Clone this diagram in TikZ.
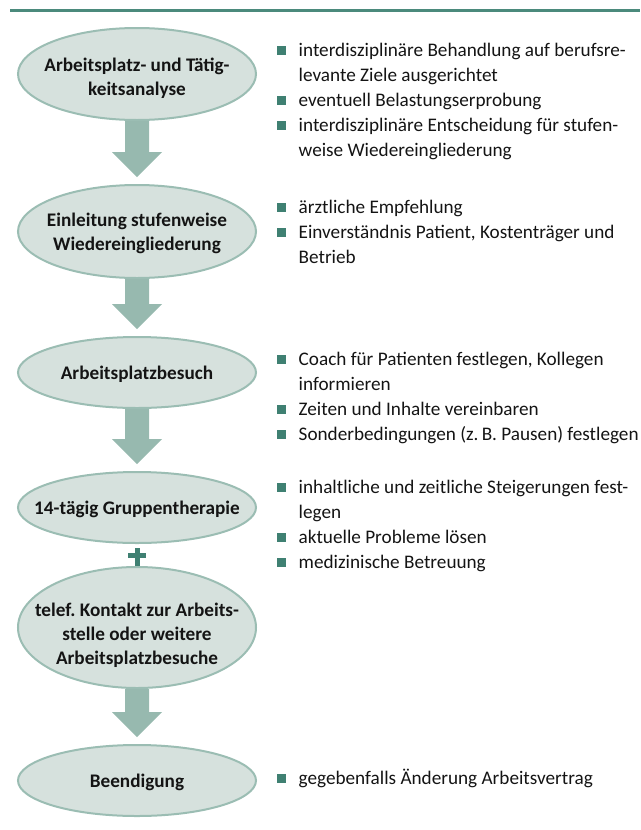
\documentclass[tikz,border=0pt]{standalone}
\usepackage{fontspec}
\setmainfont{Carlito}
\frenchspacing
\usetikzlibrary{shapes.geometric,calc}
\definecolor{rulec}{HTML}{4B8A7C}
\definecolor{ellfill}{HTML}{D6E1DD}
\definecolor{elldraw}{HTML}{9BBDB3}
\definecolor{arrfill}{HTML}{97B9AF}
\definecolor{bulc}{HTML}{3F8072}
\definecolor{txtc}{HTML}{141414}
\newcommand\bsq{\textcolor{bulc}{\rule[1.5pt]{8.5pt}{8.5pt}}}
\newcommand\fatarrow[2]{\fill[arrfill] let \p1=(#1.south), \p2=(#2.north) in
  (\x1-12pt,\y1) -- (\x1+12pt,\y1) -- (\x1+12pt,\y2+32pt) -- (\x1+25pt,\y2+32pt)
  -- (\x1,\y2+7pt) -- (\x1-25pt,\y2+32pt) -- (\x1-12pt,\y2+32pt) -- cycle;}
\begin{document}
\begin{tikzpicture}[x=1pt,y=-1pt,
  stage/.style={ellipse, draw=elldraw, line width=2pt, fill=ellfill,
    minimum width=238pt, inner sep=0pt},
  stagetext/.style={inner sep=0pt, text=txtc, align=center,
    font=\bfseries\fontsize{19.2}{24}\selectfont},
  items/.style={anchor=base west, inner sep=0pt, text=txtc,
    font=\fontsize{19.2}{25}\selectfont}]
\useasboundingbox (0,0) rectangle (640,830);
\draw[rulec, line width=3pt] (10,10.5) -- (640,10.5);

% stages
\node[stage, minimum height=92pt] (e1) at (137,74) {};
\node[stage, minimum height=93pt] (e2) at (137,231.5) {};
\node[stage, minimum height=71pt] (e3) at (137,372.5) {};
\node[stage, minimum height=71pt] (e4) at (137,507.5) {};
\node[stage, minimum height=121pt] (e5) at (137,627.5) {};
\node[stage, minimum height=71pt] (e6) at (137,780.5) {};

\node[stagetext] (t1) at (137,78) {Arbeitsplatz- und Tätig-\\keitsanalyse};
\node[stagetext] (t2) at (137,233) {Einleitung stufenweise\\Wiedereingliederung};
\node[stagetext] (t3) at (137,374) {Arbeitsplatzbesuch};
\node[stagetext] (t4) at (137,509) {14-tägig Gruppentherapie};
\node[stagetext] (t5) at (137,635) {telef. Kontakt zur Arbeits-\\stelle oder weitere\\Arbeitsplatzbesuche};
\node[stagetext] (t6) at (137,782) {Beendigung};

% arrows
\fatarrow{e1}{e2}
\fatarrow{e2}{e3}
\fatarrow{e3}{e4}
\fatarrow{e5}{e6}

% plus
\coordinate (pl) at ($(e4.south)!0.5!(e5.north)$);
\fill[bulc] ($(pl)+(-9,-2.5)$) rectangle ($(pl)+(9,2.5)$);
\fill[bulc] ($(e4.south)+(-2.5,4)$) rectangle ($(e5.north)+(2.5,0)$);

% bullet lists
\node[items] (b1) at (277,56) {\begin{tabular}[t]{@{}l@{\hspace{13pt}}l@{}}
\bsq & interdisziplinäre Behandlung auf berufsre-\\
 & levante Ziele ausgerichtet\\
\bsq & eventuell Belastungserprobung\\
\bsq & interdisziplinäre Entscheidung für stufen-\\
 & weise Wiedereingliederung
\end{tabular}};
\node[items] (b2) at (277,213) {\begin{tabular}[t]{@{}l@{\hspace{13pt}}l@{}}
\bsq & ärztliche Empfehlung\\
\bsq & Einverständnis Patient, Kostenträger und\\
 & Betrieb
\end{tabular}};
\node[items] (b3) at (277,365) {\begin{tabular}[t]{@{}l@{\hspace{13pt}}l@{}}
\bsq & Coach für Patienten festlegen, Kollegen\\
 & informieren\\
\bsq & Zeiten und Inhalte vereinbaren\\
\bsq & Sonderbedingungen (z.\,B. Pausen) festlegen
\end{tabular}};
\node[items] (b4) at (277,493) {\begin{tabular}[t]{@{}l@{\hspace{13pt}}l@{}}
\bsq & inhaltliche und zeitliche Steigerungen fest-\\
 & legen\\
\bsq & aktuelle Probleme lösen\\
\bsq & medizinische Betreuung
\end{tabular}};
\node[items] (b6) at (277,784) {\begin{tabular}[t]{@{}l@{\hspace{13pt}}l@{}}
\bsq & gegebenfalls Änderung Arbeitsvertrag
\end{tabular}};
\end{tikzpicture}
\end{document}
